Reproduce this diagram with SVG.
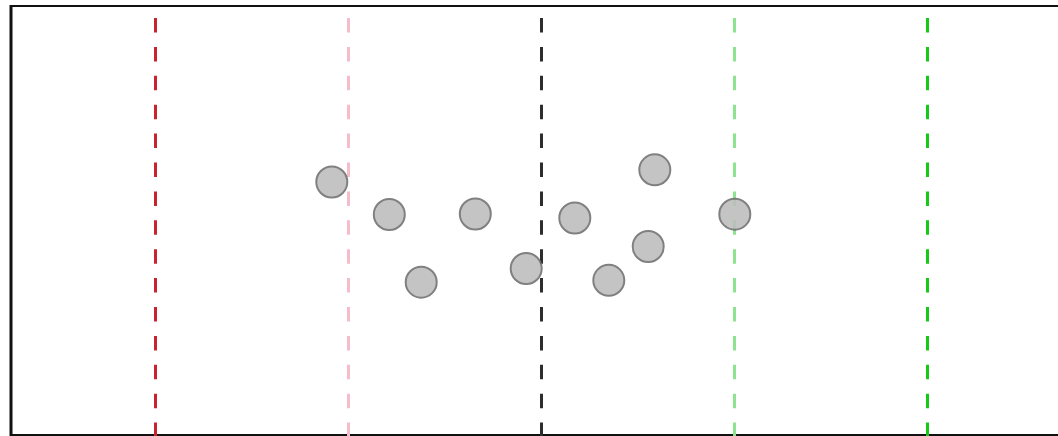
<svg xmlns="http://www.w3.org/2000/svg" width="1058" height="436" viewBox="0 0 1058 436">
<style>
.v{stroke-width:3;stroke-dasharray:14.5 14.4;fill:none}
.p{fill:#bdbdbd;stroke:#6f6f6f;stroke-width:2;opacity:0.88}
</style>
<rect x="0" y="0" width="1058" height="436" fill="#ffffff"/>
<g id="frame" fill="none" stroke="#111">
<line x1="10" y1="6" x2="1058" y2="6" stroke-width="2"/>
<line x1="11" y1="5" x2="11" y2="436" stroke-width="3"/>
<line x1="10" y1="435" x2="1058" y2="435" stroke-width="2"/>
</g>
<g id="connectors">
<line class="v" x1="155.5" y1="18" x2="155.5" y2="436" stroke="#c8232f"/>
<line class="v" x1="348.5" y1="18" x2="348.5" y2="436" stroke="#f6bccb"/>
<line class="v" x1="541.5" y1="18" x2="541.5" y2="436" stroke="#2d2d2d"/>
<line class="v" x1="734.5" y1="18" x2="734.5" y2="436" stroke="#8fe28f"/>
<line class="v" x1="927.5" y1="18" x2="927.5" y2="436" stroke="#16c916"/>
</g>
<g id="n1"><circle class="p" cx="331.8" cy="182" r="15.5"/></g>
<g id="n2"><circle class="p" cx="389.3" cy="214.5" r="15.5"/></g>
<g id="n3"><circle class="p" cx="475.3" cy="214" r="15.5"/></g>
<g id="n4"><circle class="p" cx="421.2" cy="282.2" r="15.5"/></g>
<g id="n5"><circle class="p" cx="526.2" cy="268.5" r="15.5"/></g>
<g id="n6"><circle class="p" cx="654.8" cy="169.8" r="15.5"/></g>
<g id="n7"><circle class="p" cx="574.8" cy="218" r="15.5"/></g>
<g id="n8"><circle class="p" cx="648.2" cy="246.5" r="15.5"/></g>
<g id="n9"><circle class="p" cx="608.8" cy="280.3" r="15.5"/></g>
<g id="n10"><circle class="p" cx="734.8" cy="214.2" r="15.5"/></g>
</svg>
